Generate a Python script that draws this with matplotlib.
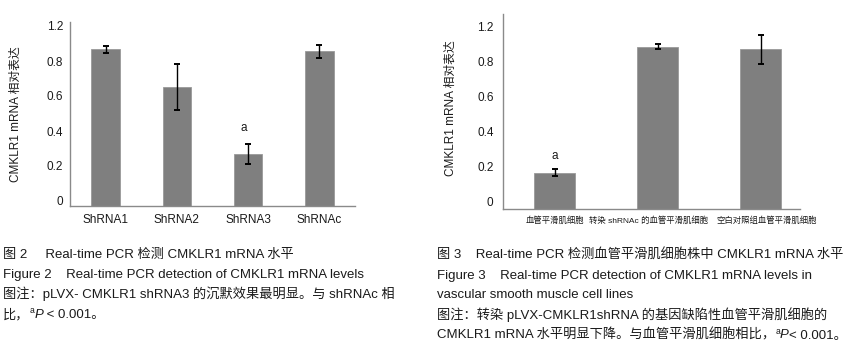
import numpy as np
import matplotlib
matplotlib.use('Agg')
import matplotlib.pyplot as plt
from matplotlib.transforms import ScaledTranslation, IdentityTransform

plt.rcParams['font.family'] = ['Liberation Sans', 'Noto Sans CJK SC', 'DejaVu Sans']

# figure 2 data
cats2 = ['ShRNA1', 'ShRNA2', 'ShRNA3', 'ShRNAc']
vals2 = [0.895, 0.68, 0.297, 0.884]
errs2 = [0.021, 0.131, 0.055, 0.038]

# figure 3 data
cats3 = ['血管平滑肌细胞', '转染 shRNAc 的血管平滑肌细胞', '空白对照组血管平滑肌细胞']
vals3 = [0.209, 0.930, 0.915]
errs3 = [0.019, 0.016, 0.082]

yticks = [0, 0.2, 0.4, 0.6, 0.8, 1.0]
ylabels = ['0', '0.2', '0.4', '0.6', '0.8', '1.2']
ytitle = 'CMKLR1 mRNA 相对表达'

W, H = 849, 351
fig = plt.figure(figsize=(W / 100, H / 100), dpi=100)

bar_color = '#7f7f7f'
spine_color = '#8a8a8a'
txt_color = '#1a1a1a'


def shift(lab, dx, dy):
    lab.set_transform(lab.get_transform()
                      + ScaledTranslation(dx / 100, dy / 100, fig.dpi_scale_trans))


def style(ax, ylab_dy, ypad, xpad, xfont):
    for s in ['top', 'right']:
        ax.spines[s].set_visible(False)
    for s in ['left', 'bottom']:
        ax.spines[s].set_color(spine_color)
        ax.spines[s].set_linewidth(1.0)
    ax.set_yticks(yticks)
    ax.set_yticklabels(ylabels, fontsize=8.5, color=txt_color)
    ax.tick_params(axis='y', length=0, pad=ypad)
    ax.tick_params(axis='x', length=0, pad=xpad)
    for lab in ax.get_xticklabels():
        lab.set_fontsize(xfont)
        lab.set_color(txt_color)
    for lab in ax.get_yticklabels():
        shift(lab, 0, ylab_dy)


# left chart
ax1 = fig.add_axes([70 / W, 1 - 206 / H, 285 / W, 184 / H])
x1 = np.arange(len(cats2))
ax1.bar(x1, vals2, width=0.4, color=bar_color, edgecolor='#9a9a9a', linewidth=0.6)
ax1.errorbar(x1, vals2, yerr=errs2, fmt='none', ecolor='black', elinewidth=1.0,
             capsize=2.2, capthick=1.4)
ax1.set_xlim(-0.5, 3.5)
ax1.set_ylim(0, 184 / 175)
ax1.set_xticks(x1)
ax1.set_xticklabels(cats2)
style(ax1, 5, 5, 6, 8.5)
ax1.set_ylabel(ytitle, fontsize=8.5, color=txt_color)
ax1.yaxis.set_label_coords(-0.168, 0.5)
ax1.annotate('a', (2, vals2[2] + errs2[2]), xytext=(-3, 12), textcoords='offset points',
             ha='center', va='center', fontsize=8.5, color=txt_color)

# right chart
ax2 = fig.add_axes([503.3 / W, 1 - 209.3 / H, 296.7 / W, 195.3 / H])
x2 = np.arange(len(cats3))
ax2.bar(x2, vals3, width=0.4, color=bar_color, edgecolor='#9a9a9a', linewidth=0.6)
ax2.errorbar(x2, vals3, yerr=errs3, fmt='none', ecolor='black', elinewidth=1.0,
             capsize=2.2, capthick=1.4)
ax2.set_xlim(-0.5, 2.38)
ax2.set_ylim(0, 195.3 / 175)
ax2.set_xticks(x2)
ax2.set_xticklabels(cats3)
style(ax2, 8, 7, 5, 6.0)
xl = ax2.get_xticklabels()
shift(xl[1], -9, 0)
shift(xl[2], 6, 0)
ax2.set_ylabel(ytitle, fontsize=8.5, color=txt_color)
ax2.yaxis.set_label_coords(-0.156, 0.52)
ax2.annotate('a', (0, vals3[0] + errs3[0]), xytext=(0, 10), textcoords='offset points',
             ha='center', va='center', fontsize=8.5, color=txt_color)

# captions (pieces so the superscript a and italic P sit inline)
cap_left = [
    [('图 2     Real-time PCR 检测 CMKLR1 mRNA 水平', {})],
    [('Figure 2    Real-time PCR detection of CMKLR1 mRNA levels', {})],
    [('图注：pLVX- CMKLR1 shRNA3 的沉默效果最明显。与 shRNAc 相', {})],
    [('比，', {}), ('a', {'sup': True}), ('P', {'style': 'italic'}), (' < 0.001。', {})],
]
cap_right = [
    [('图 3    Real-time PCR 检测血管平滑肌细胞株中 CMKLR1 mRNA 水平', {})],
    [('Figure 3    Real-time PCR detection of CMKLR1 mRNA levels in', {})],
    [('vascular smooth muscle cell lines', {})],
    [('图注：转染 pLVX-CMKLR1shRNA 的基因缺陷性血管平滑肌细胞的', {})],
    [('CMKLR1 mRNA 水平明显下降。与血管平滑肌细胞相比，', {}), ('a', {'sup': True}),
     ('P', {'style': 'italic'}), ('< 0.001。', {})],
]

renderer = fig.canvas.get_renderer()


def put_line(x, y_top, parts, size=9.5):
    y = H - y_top
    for s, opt in parts:
        if opt.get('sup'):
            t = fig.text(x, y + 5, s, fontsize=size * 0.65, va='baseline', ha='left',
                         color=txt_color, transform=IdentityTransform())
        else:
            t = fig.text(x, y, s, fontsize=size, va='baseline', ha='left',
                         style=opt.get('style', 'normal'), color=txt_color,
                         transform=IdentityTransform())
        x = t.get_window_extent(renderer).x1


for i, parts in enumerate(cap_left):
    put_line(3, 258 + 20 * i, parts)
for i, parts in enumerate(cap_right):
    put_line(437, 258.5 + 20 * i, parts)

fig.savefig('out.png', dpi=100)
